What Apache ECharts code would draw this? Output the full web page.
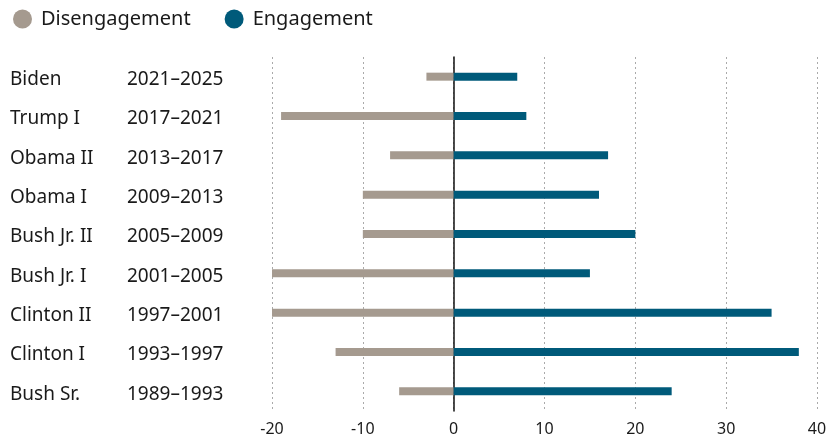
<!DOCTYPE html>
<html>
<head>
<meta charset="utf-8">
<script src="https://cdn.jsdelivr.net/npm/echarts@6/dist/echarts.min.js"></script>
<style>html,body{margin:0;padding:0;background:#fff;}#c{width:833px;height:437px;}</style>
</head>
<body>
<div id="c"></div>
<script>
const presidents = ['Biden','Trump I','Obama II','Obama I','Bush Jr. II','Bush Jr. I','Clinton II','Clinton I','Bush Sr.'];
const terms = ['2021–2025','2017–2021','2013–2017','2009–2013','2005–2009','2001–2005','1997–2001','1993–1997','1989–1993'];
const disengagement = [-3,-19,-7,-10,-10,-20,-20,-13,-6];
const engagement = [7,8,17,16,20,15,35,38,24];
const xTicks = [-20,-10,0,10,20,30,40];

const FONT = '"Noto Sans"';
const chart = echarts.init(document.getElementById('c'), null, {renderer:'canvas'});
const cats = presidents.map((p,i)=>p+'|'+terms[i]);
chart.setOption({
  animation:false,
  textStyle:{fontFamily:FONT},
  legend:{
    left:8, top:4, itemGap:34, icon:'circle', itemWidth:19, itemHeight:19,
    textStyle:{fontSize:20, color:'#1a1a1a', fontFamily:FONT, padding:[0,0,0,4]},
    data:['Disengagement','Engagement']
  },
  grid:{left:272, right:16, top:57, bottom:26},
  xAxis:{
    type:'value', min:xTicks[0], max:xTicks[xTicks.length-1], interval:10,
    axisLine:{show:false}, axisTick:{show:false},
    axisLabel:{color:'#1a1a1a', fontSize:16, margin:10, fontFamily:FONT},
    splitLine:{show:true, lineStyle:{type:[2,3], color:'#aaa', width:1}}
  },
  yAxis:{
    type:'category', inverse:true, data:cats,
    axisLine:{show:true, onZero:true, lineStyle:{color:'#111', width:1.5}},
    axisTick:{show:false},
    axisLabel:{
      align:'left', margin:262,
      formatter:v=>{const [a,b]=v.split('|');return '{a|'+a+'}{b|'+b+'}';},
      rich:{
        a:{width:117, fontSize:19, color:'#1a1a1a', fontFamily:FONT, padding:[6,0,0,0]},
        b:{fontSize:19, color:'#1a1a1a', fontFamily:FONT, padding:[6,0,0,0]}
      }
    }
  },
  series:[
    {name:'Disengagement', type:'bar', data:disengagement, barWidth:8, barGap:'-100%', itemStyle:{color:'#a59a8f'}},
    {name:'Engagement', type:'bar', data:engagement, barWidth:8, barGap:'-100%', itemStyle:{color:'#005a7a'}}
  ]
});
</script>
</body>
</html>
